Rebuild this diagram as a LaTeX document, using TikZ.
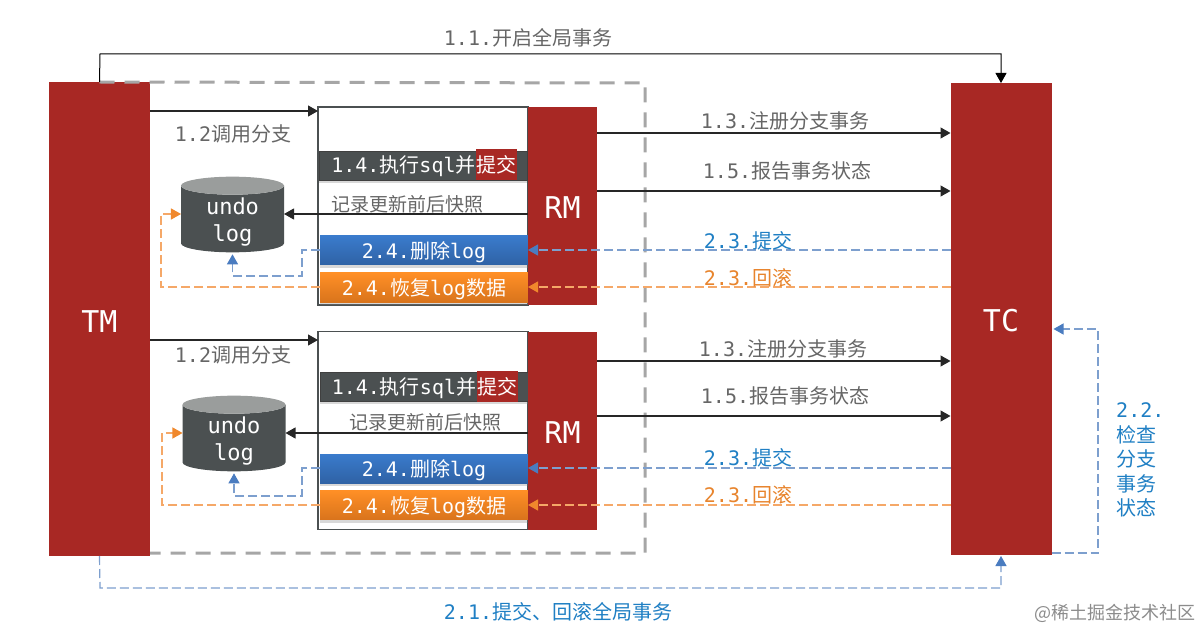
\documentclass[tikz,border=0pt]{standalone}
\usepackage{fontspec}
\setmainfont{DejaVu Sans Mono}
\newfontfamily\cjk{Noto Sans CJK SC}
\newcommand{\cn}[1]{{\cjk #1}}
\newcommand{\dbLine}[1]{\raisebox{-3pt}[\height][\depth]{#1}}
\usetikzlibrary{
  arrows.meta,
  shadows,
  shapes.geometric
}
\definecolor{txRed}{HTML}{A82824}
\definecolor{txDark}{HTML}{4B5051}
\definecolor{txTop}{HTML}{9A9D9C}
\definecolor{txGray}{HTML}{666666}
\definecolor{txBlue}{HTML}{4A7CC0}
\definecolor{txBlueTop}{HTML}{3A7BCC}
\definecolor{txBlueLow}{HTML}{2F62A5}
\definecolor{txBlueLine}{HTML}{7D9FCE}
\definecolor{txBlueText}{HTML}{1F7FC4}
\definecolor{txOrange}{HTML}{F0882C}
\definecolor{txOrangeTop}{HTML}{FF8F26}
\definecolor{txOrangeLow}{HTML}{D9741C}
\definecolor{txOrangeLine}{HTML}{F5A868}
\definecolor{txOrangeText}{HTML}{E8842C}
\tikzset{
  txBlock/.style={
    fill=txRed,
    text=white,
    minimum width=101pt,
    inner sep=0pt,
    outer sep=0pt,
    text height=26pt,
    font=\fontsize{30}{36}\selectfont
  },
  rmBlock/.style={txBlock, minimum width=69pt, minimum height=198pt},
  branchBox/.style={
    draw=txDark,
    line width=1.3pt,
    fill=white,
    minimum width=210pt,
    minimum height=198pt,
    inner sep=0pt,
    outer sep=0pt
  },
  barText/.style={
    text=white,
    inner sep=0pt,
    text height=19pt,
    text depth=3pt,
    font=\fontsize{20}{24}\selectfont
  },
  stepBar/.style={
    barText,
    minimum width=208pt,
    minimum height=29pt,
    outer sep=0pt,
    drop shadow={shadow xshift=0pt, shadow yshift=-3pt, opacity=.3}
  },
  execBar/.style={stepBar, fill=txDark, draw=black!75, line width=.8pt},
  deleteBar/.style={stepBar, top color=txBlueTop, bottom color=txBlueLow},
  restoreBar/.style={stepBar, top color=txOrangeTop, bottom color=txOrangeLow},
  commitMark/.style={barText, fill=txRed, minimum width=41pt, minimum height=31pt},
  undoDb/.style={
    shape=cylinder,
    shape border rotate=90,
    aspect=.34,
    anchor=shape center,
    cylinder uses custom fill,
    cylinder body fill=txDark,
    cylinder end fill=txTop,
    minimum width=103pt,
    minimum height=75pt,
    inner sep=0pt,
    outer sep=0pt,
    align=center,
    text=white,
    font=\fontsize{22}{27}\selectfont
  },
  txLabel/.style={text=txGray, inner sep=0pt, font=\fontsize{20}{24}\selectfont},
  blueLabel/.style={txLabel, text=txBlueText},
  orangeLabel/.style={txLabel, text=txOrangeText},
  txArrow/.style={black!85, line width=1.1pt, -{Triangle[length=10pt, width=11pt]}},
  blueDash/.style={txBlueLine, line width=1.2pt, dash pattern=on 9pt off 4pt,
    -{Triangle[length=10pt, width=11pt, color=txBlue]}},
  orangeDash/.style={txOrangeLine, line width=1.2pt, dash pattern=on 9pt off 4pt,
    -{Triangle[length=10pt, width=11pt, color=txOrange]}},
  scopeFrame/.style={draw=black!35, line width=3pt, dash pattern=on 15pt off 10pt}
}
\begin{document}
\begin{tikzpicture}[x=1pt,y=-1pt]
  \useasboundingbox (0,0) rectangle (1200,631);
  \fill[white] (0,0) rectangle (1200,631);

  \node[txBlock, minimum height=474pt] (tm) at (99.5,319) {TM};
  \node[txBlock, minimum height=472pt] (tc) at (1001,319) {TC};
  \draw[scopeFrame] (tm.north) -- (645,83) -- (645,553) -- (tm.east |- 0,553);

  % upper branch
  \node[branchBox] (box1) at (423,206) {};
  \node[execBar] (exec1) at (423,165.5) {};
  \node[commitMark] (commit1) at (496.5,165) {\cn{提交}};
  \node[barText, anchor=east] (execText1) at (commit1.west) {1.4.\cn{执行}sql\cn{并}};
  \node[deleteBar] (delete1) at (424,250.5) {2.4.\cn{删除}log};
  \node[restoreBar] (restore1) at (424,287.5) {2.4.\cn{恢复}log\cn{数据}};
  \node[rmBlock] (rm1) at (562.5,206) {RM};
  \node[undoDb] (undo1) at (232.5,214.5) {\dbLine{undo}\\\dbLine{log}};

  % lower branch
  \node[branchBox] (box2) at (423,430.5) {};
  \node[execBar] (exec2) at (424,386.5) {};
  \node[commitMark] (commit2) at (497,386) {\cn{提交}};
  \node[barText, anchor=east] (execText2) at (commit2.west) {1.4.\cn{执行}sql\cn{并}};
  \node[deleteBar] (delete2) at (424,468.5) {2.4.\cn{删除}log};
  \node[restoreBar] (restore2) at (424,505) {2.4.\cn{恢复}log\cn{数据}};
  \node[rmBlock] (rm2) at (562.5,430.5) {RM};
  \node[undoDb] (undo2) at (234,433.5) {\dbLine{undo}\\\dbLine{log}};

  % global
  \draw[txArrow, black, line width=1pt] (tm.north) -- (100,54) -| (tc.north);
  \node[txLabel] (openLabel) at (528,38) {1.1.\cn{开启全局事务}};
  \draw[blueDash, shorten >=1pt] (tm.south) -- (100,588) -| (tc.south);
  \node[blueLabel] (endLabel) at (558,612) {2.1.\cn{提交、回滚全局事务}};
  \draw[blueDash, shorten >=2pt] (tc.east |- 0,553) -- (1098,553) -- (1098,329) -- (tc.east |- 0,329);
  \node[blueLabel, anchor=west, align=left, font=\fontsize{20}{24.5}\selectfont]
    (checkLabel) at (1116,460) {2.2.\\\cn{检查}\\\cn{分支}\\\cn{事务}\\\cn{状态}};
  \node[text=black!45, inner sep=0pt, font=\cjk\fontsize{18}{22}\selectfont]
    (markLabel) at (1115,613) {@稀土掘金技术社区};

  % upper connectors
  \draw[txArrow] (tm.east |- 0,111) -- (box1.west |- 0,111);
  \node[txLabel] (callLabel1) at (233,134) {1.2\cn{调用分支}};
  \draw[txArrow] (rm1.west |- 0,214) -- (undo1.east |- 0,214);
  \node[txLabel, font=\fontsize{19}{24}\selectfont] (snapLabel1) at (407,204) {\cn{记录更新前后快照}};
  \draw[blueDash, shorten >=2pt] (delete1.west |- 0,250) -- (302,250) -- (302,276) -| (undo1.south);
  \draw[orangeDash] (restore1.west |- 0,287) -- (161,287) |- (undo1.west |- 0,214);
  \draw[txArrow] (rm1.east |- 0,133) -- (tc.west |- 0,133);
  \node[txLabel] (regLabel1) at (785,121) {1.3.\cn{注册分支事务}};
  \draw[txArrow] (rm1.east |- 0,191) -- (tc.west |- 0,191);
  \node[txLabel] (reportLabel1) at (787,171) {1.5.\cn{报告事务状态}};
  \draw[blueDash] (tc.west |- 0,250) -- (rm1.west |- 0,250);
  \node[blueLabel] (commitLabel1) at (748,241) {2.3.\cn{提交}};
  \draw[orangeDash] (tc.west |- 0,287) -- (rm1.west |- 0,287);
  \node[orangeLabel] (rollLabel1) at (748,278) {2.3.\cn{回滚}};

  % lower connectors
  \draw[txArrow] (tm.east |- 0,340) -- (box2.west |- 0,340);
  \node[txLabel] (callLabel2) at (233,355) {1.2\cn{调用分支}};
  \draw[txArrow] (rm2.west |- 0,433) -- (undo2.east |- 0,433);
  \node[txLabel, font=\fontsize{19}{24}\selectfont] (snapLabel2) at (425,422) {\cn{记录更新前后快照}};
  \draw[blueDash, shorten >=2pt] (delete2.west |- 0,468) -- (302,468) -- (302,496) -| (undo2.south);
  \draw[orangeDash] (restore2.west |- 0,505) -- (162,505) |- (undo2.west |- 0,433);
  \draw[txArrow] (rm2.east |- 0,361) -- (tc.west |- 0,361);
  \node[txLabel] (regLabel2) at (783,349) {1.3.\cn{注册分支事务}};
  \draw[txArrow] (rm2.east |- 0,416) -- (tc.west |- 0,416);
  \node[txLabel] (reportLabel2) at (785,396) {1.5.\cn{报告事务状态}};
  \draw[blueDash] (tc.west |- 0,468) -- (rm2.west |- 0,468);
  \node[blueLabel] (commitLabel2) at (748,458) {2.3.\cn{提交}};
  \draw[orangeDash] (tc.west |- 0,505) -- (rm2.west |- 0,505);
  \node[orangeLabel] (rollLabel2) at (748,495) {2.3.\cn{回滚}};
\end{tikzpicture}
\end{document}
